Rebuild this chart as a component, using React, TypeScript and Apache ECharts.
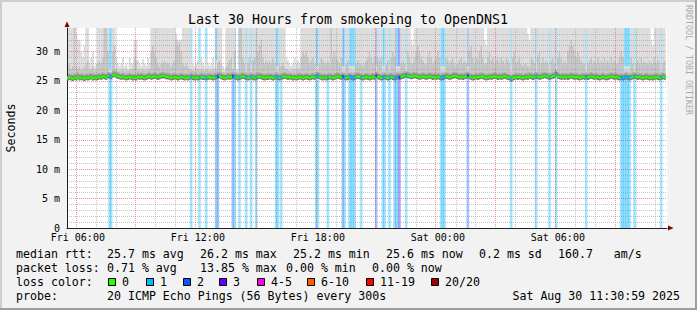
import React, { useEffect, useRef } from 'react';
import * as echarts from 'echarts';

// ---------------- data ----------------
const N_STEPS = 360; // 30 hours of 300 s steps
const START_MINUTE = 5 * 60 + 30; // Fri 05:30
const STEP_MINUTES = 5;
const Y_MAX = 34;
const Y_TICK_LABELS = ['0', '5 m', '10 m', '15 m', '20 m', '25 m', '30 m'];
const X_TICK_LABELS = ['Fri 06:00', 'Fri 12:00', 'Fri 18:00', 'Sat 00:00', 'Sat 06:00'];

// median rtt per step (ms)
const MEDIAN = [
  25.5,25.6,25.5,25.4,25.6,25.5,25.7,25.5,25.6,25.5,
  25.4,25.6,25.5,25.6,25.7,25.5,25.6,25.5,25.6,25.7,
  25.6,25.8,25.7,25.6,25.9,25.8,25.7,26.0,26.1,25.9,
  25.8,25.7,25.6,25.7,25.6,25.5,25.6,25.7,25.6,25.5,
  25.6,25.5,25.7,25.6,25.7,25.6,25.5,25.6,25.7,25.8,
  25.6,25.7,25.8,25.7,25.6,25.7,25.8,25.9,25.8,25.7,
  25.7,25.6,25.5,25.6,25.7,25.6,25.5,25.6,25.7,25.6,
  25.5,25.6,25.5,25.6,25.7,25.6,25.5,25.6,25.5,25.6,
  25.7,25.6,25.6,25.5,25.6,25.7,25.6,25.5,25.6,25.7,
  25.8,25.9,25.7,25.6,25.5,25.6,25.7,25.6,25.7,25.8,
  25.7,25.6,25.5,25.6,25.7,25.8,25.7,25.6,25.5,25.6,
  25.7,25.6,25.5,25.6,25.7,25.8,25.7,25.6,25.5,25.6,
  25.6,25.7,25.6,25.5,25.6,25.7,25.6,25.5,25.6,25.7,
  25.8,25.7,25.6,25.7,25.6,25.5,25.6,25.5,25.6,25.7,
  25.6,25.5,25.6,25.7,25.6,25.5,25.6,25.7,25.6,25.8,
  25.9,25.7,25.6,25.5,25.6,25.5,25.6,25.7,25.6,25.5,
  25.6,25.7,25.8,25.7,25.6,25.7,25.6,25.5,25.6,25.7,
  25.6,25.5,25.6,25.7,25.8,25.7,25.6,25.5,25.6,25.7,
  25.6,25.5,25.6,25.7,25.6,25.9,25.7,25.6,25.5,25.6,
  25.7,25.6,25.5,25.6,25.7,25.6,25.5,25.6,25.7,25.6,
  25.7,25.8,25.9,26.0,25.9,25.8,25.7,25.8,25.9,25.8,
  25.7,25.6,25.7,25.8,25.7,25.6,25.7,25.8,25.7,25.6,
  25.7,25.6,25.7,25.6,25.5,25.6,25.7,25.8,25.7,25.6,
  25.7,25.8,25.9,25.8,25.7,25.6,25.7,25.6,25.7,25.8,
  25.9,25.7,25.6,25.5,25.6,25.7,25.6,25.7,25.8,25.7,
  25.6,25.5,25.6,25.7,25.6,25.7,25.8,25.7,25.6,25.7,
  25.6,25.7,25.8,25.7,25.6,25.5,25.3,25.5,25.6,25.7,
  25.6,25.7,25.6,25.5,25.6,25.7,25.6,25.8,25.7,25.6,
  25.7,25.8,25.7,25.6,25.7,25.8,25.9,25.8,25.7,25.6,
  25.7,25.8,25.9,26.2,25.8,25.7,25.6,25.7,25.6,25.7,
  25.6,25.7,25.8,25.7,25.6,25.7,25.6,25.5,25.6,25.7,
  25.6,25.7,25.6,25.7,25.8,25.7,25.6,25.7,25.6,25.5,
  25.6,25.7,25.6,25.5,25.6,25.7,25.8,25.7,25.6,25.7,
  25.6,25.5,25.6,25.5,25.6,25.7,25.6,25.5,25.6,25.7,
  25.8,25.7,25.6,25.7,25.6,25.5,25.6,25.7,25.6,25.5,
  25.6,25.5,25.6,25.7,25.6,25.5,25.6,25.7,25.6,
];

// upper part of the smoke (dense pings) per step (ms)
const SMOKE_UPPER = [
  27.5,28,27,27.5,34,27.5,27,27.5,27,27,
  27.5,28,28.5,27,27,27.5,26.8,27,28,28.5,
  28,29,35,35,30,26.5,26.5,30,31,27,
  26.8,26.7,27,27,26.8,27,26.7,27,27,27,
  29,28.5,27,27,26.8,27,27,26.8,27,27,
  30,31,30,29,28,27.5,28,28,28.5,28,
  28,28,27.5,28,28.5,32,31,31.5,30,28,
  27.5,28,27.5,27,27,26.8,26.7,27,27,26.8,
  27,26.9,26.7,27,27,26.8,26.9,27,26.7,27,
  28,28.5,28,26.6,26.5,27.5,28,28.5,29,27,
  30,26.6,26.6,34,35,29,28,26.6,28,29,
  26.6,28.5,29,26.6,30,31,32,29,28,28.5,
  28,28.5,28,29,28,26.6,26.6,28,27.5,28,
  27.5,27,27,26.8,26.8,27,27,26.9,27,27,
  29,30,29.5,30,29,28,28.5,29,28,26.6,
  26.6,28,29,28.5,28,28,28.5,28,35,29,
  30,29,28.5,28,29,26.6,26.6,28,28.5,26.6,
  26.6,26.6,26.6,28,28.5,28,28,27.5,28,28.5,
  29,30,29,28,29,26.6,29,28.5,29,26.6,
  26.6,28,28.5,26.6,29,30,29,26.6,26.6,26.6,
  28,28.5,28,26.6,30,29,28,28,29,30,
  31,30,29,28.5,28,28,29,30,29,28,
  28.5,29,30,29,26.6,26.6,26.6,29,28.5,28,
  28.5,29,28,27.5,28,28.5,29,28,28.5,28,
  26.6,30,31,29,28,29,28.5,30,31,29,
  28,28,29,30,28.5,29,28,28.5,29,28,
  29,28.5,28,29,28.5,28,26.6,29,30,28,
  28.5,29,28,27.5,28,28,27.5,27.5,29,28.5,
  28,26.6,29,30,28,29,28,28.5,28,26.6,
  28.5,29,28,26.6,29,30,29,28,28.5,28,
  30,31,32,31,30,29,30,29,28.5,28,
  28,26.6,28,28.5,29,28,28.5,28,29,28,
  28.5,28,29,28,28.5,28,29,28,28.5,28,
  28,29,30,29,26.6,26.6,26.6,26.6,29,28,
  26.6,28,28.5,28,29,28,28.5,28,28,28.5,
  28,28,29,28,28.5,28,26.6,28,28.5,
];

// highest ping per step (ms)
const SMOKE_MAX = [
  36,36,36,36,37,33,32,32,30,29,
  31,34,35,28,29,30,27.5,28,36,36,
  36,36,38,38,35,27,27,36,36,29,
  28,27.5,28,29,27.5,28,27,29,28,28,
  32,32,28.5,28,27.5,28.7,28,27.5,29,28,
  36,36,36,36,36,36,36,35,36,36,
  36,36,36,36,36,33,32,32,32,36,
  36,36,36,36,29,28,27.5,28,28.5,28,
  29,28,27.5,29,28,27.5,28,29,27.5,28.5,
  36,36,36,27.5,27,36,36,36,36,35,
  36,27,27,36,36,36,36,27.5,36,36,
  27.5,36,36,27.5,36,36,36,36,36,36,
  36,36,36,36,36,27.5,27.5,36,36,36,
  36,29,28.5,28,27.5,28,29,28,28.5,28,
  36,36,36,36,36,36,36,36,36,27.5,
  27.5,36,36,36,36,36,36,36,36,36,
  36,36,36,36,36,27.5,27.5,36,36,27.5,
  27.5,27.5,27.5,36,36,36,36,36,36,36,
  36,36,36,36,36,27.5,36,36,36,27.5,
  27.5,36,36,27.5,36,36,36,27.5,27.5,27.5,
  36,36,36,27.5,36,36,32,31,36,36,
  36,36,36,36,36,36,36,36,36,36,
  36,36,36,36,27.5,27.5,27.5,36,36,36,
  36,36,36,36,36,36,36,36,36,36,
  27.5,36,36,36,36,36,36,36,36,36,
  32,31,36,36,36,36,36,36,36,36,
  36,36,36,36,36,36,27.5,36,36,36,
  36,36,36,36,36,34,33,32,36,36,
  36,27.5,36,36,36,36,36,36,36,27.5,
  36,36,36,27.5,36,36,36,36,36,36,
  36,36,36,36,36,36,36,36,36,36,
  36,27.5,36,36,36,36,36,36,36,36,
  36,36,36,36,36,36,36,36,36,36,
  36,36,36,36,27.5,27.5,27.5,27.5,36,36,
  27.5,36,36,36,36,36,36,36,36,36,
  32,31,36,36,36,36,27.5,36,36,
];

// [step, lost pings of 20]
const LOSS = [
  [25,1],[26,1],[74,1],[79,1],[83,1],[89,1],[90,2],[99,2],[100,1],[103,1],
  [107,1],[110,1],[113,1],[125,1],[126,1],[128,1],[149,1],[150,1],[156,1],[165,2],
  [166,1],[169,1],[170,1],[171,1],[172,1],[176,1],[185,2],[189,1],[190,1],[193,1],
  [196,1],[197,1],[198,1],[199,3],[203,1],[224,1],[225,1],[226,1],[240,2],[266,1],
  [281,1],[289,1],[293,1],[311,1],[332,1],[333,1],[334,1],[335,1],[336,1],[337,1],
  [340,1],[356,1],
];

const LOSS_LABELS = ['0', '1', '2', '3', '4-5', '6-10', '11-19', '20/20'];
const LOSS_COLORS = ['#26ff00', '#00b8ff', '#0059ff', '#5e00ff', '#ff00ea', '#ff5e00', '#ff0000', '#a10000'];

const TITLE = 'Last 30 Hours from smokeping to OpenDNS1';
const Y_TITLE = 'Seconds';
const CREDIT = 'RRDTOOL / TOBI OETIKER';
const RTT_STATS = ['25.7 ms avg', '26.2 ms max', '25.2 ms min', '25.6 ms now', '0.2 ms sd', '160.7   am/s'];
const LOSS_STATS = ['0.71 % avg', '13.85 % max', '0.00 % min', '0.00 % now'];
const PROBE = '20 ICMP Echo Pings (56 Bytes) every 300s';
const STAMP = 'Sat Aug 30 11:30:59 2025';

// ---------------- helpers ----------------
function lossLevel(n: number): number {
  if (n <= 0) return 0;
  if (n <= 3) return n;
  if (n <= 5) return 4;
  if (n <= 10) return 5;
  if (n <= 19) return 6;
  return 7;
}
const pad = (n: number) => (n < 10 ? '0' + n : '' + n);

const MONO = '"DejaVu Sans Mono", monospace';
const GRID_GREY = 'rgba(150,150,150,0.55)';
const GRID_RED = 'rgba(222,81,81,0.6)';

export default function App() {
  const ref = useRef<HTMLDivElement>(null);

  useEffect(() => {
    const chart = echarts.init(ref.current!, null, { renderer: 'svg' });

    const categories: string[] = [];
    for (let i = 0; i < N_STEPS; i++) {
      const m = START_MINUTE + i * STEP_MINUTES;
      const day = m >= 1440 ? 'Sat' : 'Fri';
      const mm = m % 1440;
      categories.push(`${day} ${pad(Math.floor(mm / 60))}:${pad(mm % 60)}`);
    }
    const lossByStep = new Array(N_STEPS).fill(0);
    LOSS.forEach(([s, n]) => { lossByStep[s] = n; });

    const smokeData = MEDIAN.map((m, i) => [i, m, SMOKE_UPPER[i], SMOKE_MAX[i]]);
    const medianData = MEDIAN.map((m, i) => [i, m, lossLevel(lossByStep[i])]);
    const lossData = LOSS.map(([s, n]) => [s, Y_MAX, lossLevel(n)]);
    const vGridData: number[][] = [];
    categories.forEach((c, i) => {
      if (c.endsWith(':00')) {
        const h = parseInt(c.slice(4, 6), 10);
        vGridData.push([i, 0, h % 3 === 0 ? 1 : 0]);
      }
    });

    const yGridColors: string[] = [];
    for (let v = 0; v <= Y_MAX; v++) yGridColors.push(v % 5 === 0 ? GRID_RED : GRID_GREY);

    const legendText = (text: string, x: number, y: number, align = 'left') => ({
      type: 'text', x, y, silent: true,
      style: { text, fill: '#000', fontSize: 11.6, fontFamily: MONO, textAlign: align, textVerticalAlign: 'middle' },
    });

    const rttX = [107, 200, 293, 386, 479, 558];
    const lossX = [107, 200, 286, 372];
    const boxX = [108, 146, 183, 219, 257, 307, 366, 431];

    const graphics: any[] = [
      { type: 'rect', shape: { x: 0, y: 0, width: 697, height: 2 }, style: { fill: '#cecece' }, silent: true },
      { type: 'rect', shape: { x: 0, y: 0, width: 2, height: 310 }, style: { fill: '#cecece' }, silent: true },
      { type: 'rect', shape: { x: 0, y: 308, width: 697, height: 2 }, style: { fill: '#9e9e9e' }, silent: true },
      { type: 'rect', shape: { x: 695, y: 0, width: 2, height: 310 }, style: { fill: '#9e9e9e' }, silent: true },
      {
        type: 'text', x: 348, y: 19, silent: true,
        style: { text: TITLE, fill: '#000', fontSize: 13.3, fontFamily: MONO, textAlign: 'center', textVerticalAlign: 'middle' },
      },
      {
        type: 'text', x: 11, y: 128, rotation: Math.PI / 2, silent: true,
        style: { text: Y_TITLE, fill: '#000', fontSize: 11.6, fontFamily: MONO, textAlign: 'center', textVerticalAlign: 'middle' },
      },
      {
        type: 'text', x: 689, y: 60, rotation: -Math.PI / 2, silent: true,
        style: { text: CREDIT, fill: '#aaaaaa', fontSize: 8.3, fontFamily: MONO, textAlign: 'center', textVerticalAlign: 'middle' },
      },
      { type: 'polygon', shape: { points: [[64.5, 27], [69.5, 27], [67, 21.5]] }, style: { fill: '#7f0000' }, silent: true, z: 100 },
      { type: 'polygon', shape: { points: [[668, 225.5], [668, 230.5], [673.5, 228]] }, style: { fill: '#7f0000' }, silent: true, z: 100 },
      legendText('median rtt:', 16, 254),
      ...RTT_STATS.map((t, k) => legendText(t, rttX[k], 254)),
      legendText('packet loss:', 16, 268),
      ...LOSS_STATS.map((t, k) => legendText(t, lossX[k], 268)),
      legendText('loss color:', 16, 282),
      ...LOSS_LABELS.map((t, k) => legendText(t, boxX[k] + 14, 282)),
      ...LOSS_COLORS.map((c, k) => ({
        type: 'rect', silent: true,
        shape: { x: boxX[k] + 0.5, y: 278.5, width: 7, height: 7 },
        style: { fill: c, stroke: '#000', lineWidth: 1 },
      })),
      legendText('probe:', 16, 296),
      legendText(PROBE, 107, 296),
      legendText(STAMP, 680, 296, 'right'),
    ];

    const option: any = {
      animation: false,
      backgroundColor: '#f2f2f2',
      grid: { left: 67, top: 28, width: 600, height: 200, backgroundColor: '#ffffff', show: true, borderWidth: 0 },
      xAxis: {
        type: 'category', data: categories, boundaryGap: true, z: 3,
        axisLine: { show: true, lineStyle: { color: '#202020', width: 1 } },
        axisTick: { show: false },
        axisLabel: {
          interval: (_i: number, v: string) => X_TICK_LABELS.includes(v),
          color: '#000', fontFamily: MONO, fontSize: 10, margin: 4,
        },
        splitLine: { show: false },
      },
      yAxis: {
        type: 'value', min: 0, max: Y_MAX, interval: 1, z: 3,
        axisLine: { show: true, lineStyle: { color: '#202020', width: 1 } },
        axisTick: { show: false },
        axisLabel: {
          formatter: (v: number) => (v % 5 === 0 ? Y_TICK_LABELS[v / 5] : ''),
          showMaxLabel: false,
          color: '#000', fontFamily: MONO, fontSize: 10, margin: 7,
        },
        splitLine: {
          show: true, showMaxLine: false,
          lineStyle: { color: yGridColors, type: [1, 1], width: 1 },
        },
      },
      graphic: { elements: graphics },
      series: [
        {
          name: 'loss', type: 'custom', z: 1, silent: true,
          data: lossData,
          encode: { x: 0, y: 1 },
          renderItem: (params: any, api: any) => {
            const i = api.value(0);
            const lvl = api.value(2);
            const w = api.size([1, 0])[0];
            const top = api.coord([i, Y_MAX]);
            const bot = api.coord([i, 0]);
            return {
              type: 'rect',
              shape: { x: top[0] - w / 2 - 0.5, y: top[1], width: w + 1, height: bot[1] - top[1] },
              style: { fill: LOSS_COLORS[lvl], opacity: 0.36 },
            };
          },
        },
        {
          name: 'smoke', type: 'custom', z: 2, silent: true,
          data: smokeData,
          encode: { x: 0, y: 1 },
          renderItem: (params: any, api: any) => {
            const i = api.value(0);
            const med = api.value(1);
            const up = api.value(2);
            const mx = api.value(3);
            const w = api.size([1, 0])[0];
            const top = params.coordSys.y;
            const pMed = api.coord([i, med]);
            const yUp = Math.max(top, api.coord([i, up])[1]);
            const yMax = Math.max(top, api.coord([i, mx])[1]);
            const x = pMed[0] - w / 2;
            return {
              type: 'group',
              children: [
                { type: 'rect', shape: { x, y: yMax, width: w + 0.3, height: Math.max(0, yUp - yMax) }, style: { fill: '#dcdcdc' } },
                { type: 'rect', shape: { x, y: yUp, width: w + 0.3, height: Math.max(0, pMed[1] - yUp) }, style: { fill: '#c4c4c4' } },
                { type: 'rect', shape: { x, y: pMed[1] - 4, width: w + 0.3, height: 4 }, style: { fill: '#a4a4a4' } },
              ],
            };
          },
        },
        {
          name: 'vgrid', type: 'custom', z: 3, silent: true,
          data: vGridData,
          encode: { x: 0, y: 1 },
          renderItem: (params: any, api: any) => {
            const i = api.value(0);
            const major = api.value(2) === 1;
            const w = api.size([1, 0])[0];
            const cx = api.coord([i, 0])[0] - w / 2;
            const x = Math.floor(cx) - 0.5;
            const cs = params.coordSys;
            return {
              type: 'line',
              shape: { x1: x, y1: cs.y, x2: x, y2: cs.y + cs.height },
              style: { stroke: major ? GRID_RED : GRID_GREY, lineWidth: 1, lineDash: [1, 1] },
            };
          },
        },
        {
          name: 'median-shadow', type: 'custom', z: 4, silent: true,
          data: medianData,
          encode: { x: 0, y: 1 },
          renderItem: (params: any, api: any) => {
            const i = api.value(0);
            const w = api.size([1, 0])[0];
            const p = api.coord([i, api.value(1)]);
            return {
              type: 'rect',
              shape: { x: p[0] - w / 2, y: p[1] - 2, width: w + 0.3, height: 4.5 },
              style: { fill: '#707070' },
            };
          },
        },
        {
          name: 'median', type: 'custom', z: 5, silent: true,
          data: medianData,
          encode: { x: 0, y: 1 },
          renderItem: (params: any, api: any) => {
            const i = api.value(0);
            const lvl = api.value(2);
            const w = api.size([1, 0])[0];
            const p = api.coord([i, api.value(1)]);
            return {
              type: 'rect',
              shape: { x: p[0] - w / 2, y: p[1] - 1.2, width: w + 0.3, height: 2.4 },
              style: { fill: LOSS_COLORS[lvl] },
            };
          },
        },
      ],
    };

    chart.setOption(option);
    return () => chart.dispose();
  }, []);

  return <div ref={ref} style={{ position: 'fixed', left: 0, top: 0, width: 697, height: 310 }} />;
}
